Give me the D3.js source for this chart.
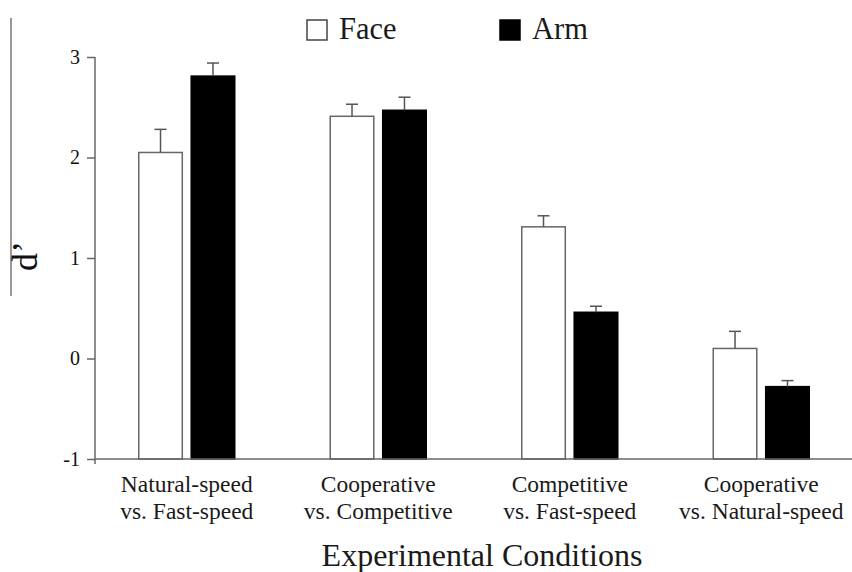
<!DOCTYPE html>
<html>
<head>
<meta charset="utf-8">
<script src="https://cdn.jsdelivr.net/npm/d3@7"></script>
<style>
  body { margin: 0; background: #fff; }
  svg { display: block; font-family: 'Liberation Serif', 'Times New Roman', serif; }
</style>
</head>
<body>
<svg id="chart" width="852" height="572"></svg>
<script>
const categories = [
  ['Natural-speed', 'vs. Fast-speed'],
  ['Cooperative', 'vs. Competitive'],
  ['Competitive', 'vs. Fast-speed'],
  ['Cooperative', 'vs. Natural-speed']
];
const series = ['Face', 'Arm'];
const faceValues = [2.05, 2.41, 1.31, 0.10];
const faceErrors = [0.23, 0.12, 0.11, 0.17];
const armValues = [2.81, 2.47, 0.46, -0.28];
const armErrors = [0.13, 0.13, 0.06, 0.06];
const yTicks = [-1, 0, 1, 2, 3];

const width = 852, height = 572;
const svg = d3.select('#chart');

const keys = categories.map(c => c.join(' '));
const x = d3.scaleBand().domain(keys).range([91, 857]);
const xs = d3.scaleBand().domain(series).range([-48, 48]).paddingInner(0.17);
const y = d3.scaleLinear().domain([-1, 3]).range([459, 57]);

const fills = { Face: '#fff', Arm: '#000' };
const rows = [];
keys.forEach((k, i) => {
  rows.push({ cat: k, s: 'Face', v: faceValues[i], e: faceErrors[i] });
  rows.push({ cat: k, s: 'Arm', v: armValues[i], e: armErrors[i] });
});

// stray frame line and the y label on the far left
svg.append('line')
  .attr('x1', 11).attr('x2', 11).attr('y1', 18).attr('y2', 296)
  .attr('stroke', '#777').attr('stroke-width', 1.5);

svg.append('text')
  .attr('transform', 'translate(37,256) rotate(-90)')
  .attr('text-anchor', 'middle')
  .attr('font-size', 36)
  .attr('fill', '#111')
  .text('d’');

// bars (drawn from the -1 baseline, as in the original)
const g = svg.append('g');
g.selectAll('rect.bar').data(rows).join('rect')
  .attr('class', 'bar')
  .attr('x', d => x(d.cat) + x.bandwidth() / 2 + xs(d.s))
  .attr('width', xs.bandwidth())
  .attr('y', d => y(d.v))
  .attr('height', d => y(-1) - y(d.v))
  .attr('fill', d => fills[d.s])
  .attr('stroke', d => d.s === 'Face' ? '#666' : '#000')
  .attr('stroke-width', 1.5);

// error bars
const cx = d => x(d.cat) + x.bandwidth() / 2 + xs(d.s) + xs.bandwidth() / 2;
g.selectAll('line.err').data(rows).join('line')
  .attr('class', 'err')
  .attr('x1', cx).attr('x2', cx)
  .attr('y1', d => y(d.v)).attr('y2', d => y(d.v + d.e))
  .attr('stroke', '#555').attr('stroke-width', 1.5);
g.selectAll('line.cap').data(rows).join('line')
  .attr('class', 'cap')
  .attr('x1', d => cx(d) - 6).attr('x2', d => cx(d) + 6)
  .attr('y1', d => y(d.v + d.e)).attr('y2', d => y(d.v + d.e))
  .attr('stroke', '#555').attr('stroke-width', 1.5);

// y axis
const yAxis = svg.append('g')
  .attr('transform', 'translate(95,0)')
  .call(d3.axisLeft(y).tickValues(yTicks).tickSize(8).tickSizeOuter(0).tickPadding(7)
    .tickFormat(d => String(d)));
yAxis.select('.domain').remove();
yAxis.selectAll('.tick line').attr('stroke', '#666').attr('stroke-width', 1.5);
yAxis.selectAll('.tick text')
  .attr('font-family', "'Liberation Serif', serif")
  .attr('font-size', 20).attr('fill', '#111');
yAxis.append('line')
  .attr('y1', y(3)).attr('y2', y(-1) + 5)
  .attr('stroke', '#666').attr('stroke-width', 1.5);

// x axis
const xAxis = svg.append('g')
  .attr('transform', `translate(0,${y(-1)})`)
  .call(d3.axisBottom(x).tickSize(0).tickFormat(''));
xAxis.select('.domain').remove();
xAxis.append('line')
  .attr('x1', 95).attr('x2', width)
  .attr('stroke', '#666').attr('stroke-width', 1.5);

const labels = svg.append('g');
categories.forEach((lines, i) => {
  const t = labels.append('text')
    .attr('x', x(keys[i]) + x.bandwidth() / 2)
    .attr('text-anchor', 'middle')
    .attr('font-size', 23.5)
    .attr('fill', '#1a1a1a');
  lines.forEach((ln, j) => {
    t.append('tspan')
      .attr('x', x(keys[i]) + x.bandwidth() / 2)
      .attr('y', 492 + j * 27)
      .text(ln);
  });
});

svg.append('text')
  .attr('x', 482).attr('y', 566)
  .attr('text-anchor', 'middle')
  .attr('font-size', 32)
  .attr('fill', '#1a1a1a')
  .text('Experimental Conditions');

// legend
const legendX = { Face: 307, Arm: 500 };
const lg = svg.append('g');
series.forEach(s => {
  lg.append('rect')
    .attr('x', legendX[s]).attr('y', 20).attr('width', 20).attr('height', 20)
    .attr('fill', fills[s])
    .attr('stroke', s === 'Face' ? '#444' : '#000').attr('stroke-width', 1.5);
  lg.append('text')
    .attr('x', legendX[s] + 32).attr('y', 39)
    .attr('font-size', 30.5)
    .attr('fill', '#1a1a1a')
    .text(s);
});
</script>
</body>
</html>
